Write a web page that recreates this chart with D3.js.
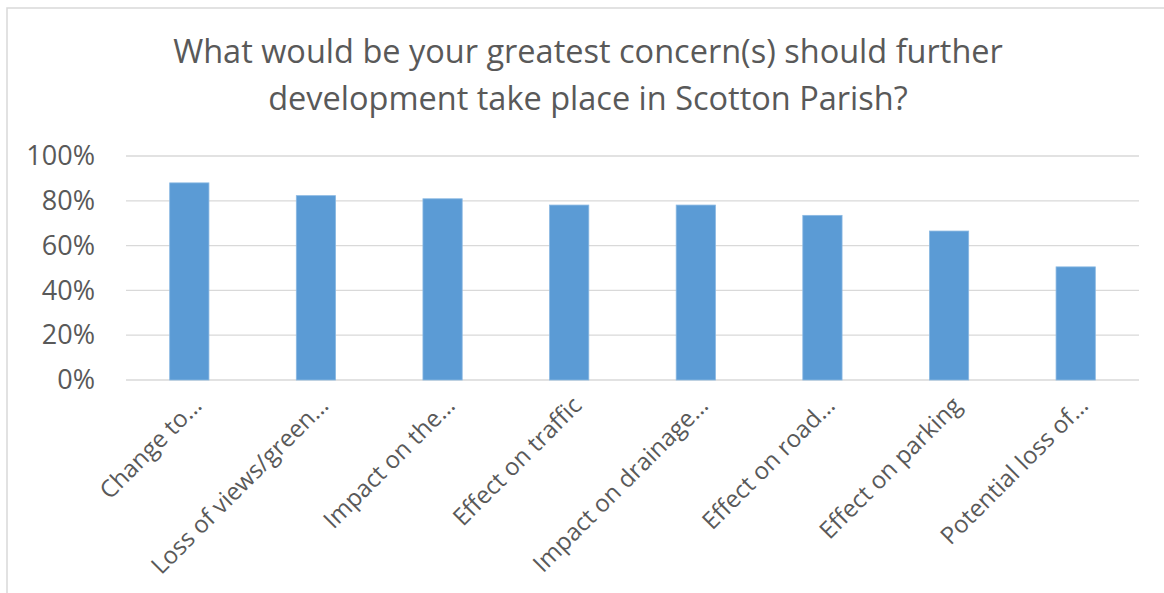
<!DOCTYPE html>
<html>
<head>
<meta charset="utf-8">
<script src="https://cdn.jsdelivr.net/npm/d3@7"></script>
<style>
  html, body { margin: 0; padding: 0; background: #fff; overflow: hidden; }
  #chart { width: 1164px; height: 593px; }
</style>
</head>
<body>
<div id="chart"></div>
<script>
const titleLines = [
  'What would be your greatest concern(s) should further',
  'development take place in Scotton Parish?'
];
const categories = [
  'Change to…',
  'Loss of views/green…',
  'Impact on the…',
  'Effect on traffic',
  'Impact on drainage…',
  'Effect on road…',
  'Effect on parking',
  'Potential loss of…'
];
const values = [0.88, 0.823, 0.809, 0.781, 0.781, 0.735, 0.665, 0.505];
const yTicks = [0, 0.2, 0.4, 0.6, 0.8, 1.0];

const width = 1164;
const height = 593;
const margin = { top: 156, right: 25, bottom: 213, left: 126 };
const innerWidth = width - margin.left - margin.right;
const innerHeight = height - margin.top - margin.bottom;
const textColor = '#595959';
const fontFamily = '"Open Sans", sans-serif';

const svg = d3.select('#chart')
  .append('svg')
  .attr('width', width)
  .attr('height', height);

// chart area border (only left and top edges are inside the picture)
svg.append('path')
  .attr('d', `M7,${height} V8 H${width}`)
  .attr('fill', 'none')
  .attr('stroke', '#d9d9d9')
  .attr('stroke-width', 1.5);

// title
svg.append('g')
  .selectAll('text')
  .data(titleLines)
  .join('text')
  .attr('x', 588)
  .attr('y', (d, i) => 63 + i * 47)
  .attr('text-anchor', 'middle')
  .attr('fill', textColor)
  .attr('font-family', fontFamily)
  .attr('font-size', '32.5px')
  .text(d => d);

const g = svg.append('g')
  .attr('transform', `translate(${margin.left},${margin.top})`);

const x = d3.scaleBand()
  .domain(categories)
  .range([0, innerWidth])
  .padding(0);

const y = d3.scaleLinear()
  .domain([0, 1])
  .range([innerHeight, 0]);

// gridlines
g.append('g')
  .selectAll('line')
  .data(yTicks)
  .join('line')
  .attr('x1', 0)
  .attr('x2', innerWidth)
  .attr('y1', d => y(d))
  .attr('y2', d => y(d))
  .attr('stroke', '#d9d9d9')
  .attr('stroke-width', 1.3);

// bars
const barW = x.bandwidth() * 0.31;
g.selectAll('.bar')
  .data(values)
  .join('rect')
  .attr('class', 'bar')
  .attr('x', (d, i) => x(categories[i]) + (x.bandwidth() - barW) / 2)
  .attr('y', d => y(d))
  .attr('width', barW)
  .attr('height', d => innerHeight - y(d))
  .attr('fill', '#5b9bd5')
  .attr('stroke', '#8ab8e2')
  .attr('stroke-width', 0.8);

// y axis
const yAxis = g.append('g')
  .call(d3.axisLeft(y).tickValues(yTicks).tickFormat(d3.format('.0%')).tickSize(0).tickPadding(31));
yAxis.select('.domain').remove();
yAxis.selectAll('text')
  .attr('fill', textColor)
  .attr('font-family', fontFamily)
  .attr('font-size', '27px');

// x axis labels, rotated
const xAxis = g.append('g')
  .attr('transform', `translate(0,${innerHeight})`)
  .call(d3.axisBottom(x).tickSize(0).tickPadding(0));
xAxis.select('.domain').remove();
xAxis.selectAll('text')
  .attr('fill', textColor)
  .attr('font-family', fontFamily)
  .attr('font-size', '24px')
  .attr('text-anchor', 'end')
  .attr('dy', '0.35em')
  .attr('transform', 'translate(8,21) rotate(-45)');
</script>
</body>
</html>
